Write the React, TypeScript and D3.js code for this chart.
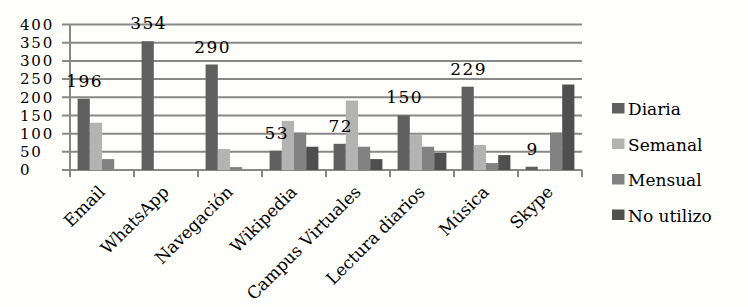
import React from "react";
import * as d3 from "d3";

const categories = ["Email", "WhatsApp", "Navegación", "Wikipedia", "Campus Virtuales", "Lectura diarios", "Música", "Skype"];
const seriesNames = ["Diaria", "Semanal", "Mensual", "No utilizo"];
const diaria = [196, 354, 290, 53, 72, 150, 229, 9];
const semanal = [130, 0, 58, 135, 191, 96, 69, 2];
const mensual = [30, 0, 8, 103, 64, 64, 19, 103];
const noUtilizo = [0, 0, 0, 64, 30, 47, 41, 235];
const yTicks = [0, 50, 100, 150, 200, 250, 300, 350, 400];
const colors = ["#5f5f5f", "#b3b3b3", "#828282", "#4f4f4f"];

const W = 748, H = 307;
const left = 70, right = 582, top = 24.5, bottom = 170;
const grid = "#888888";
const serif = "DejaVu Serif";

export default function App() {
  const series = [diaria, semanal, mensual, noUtilizo];
  const x0 = d3.scaleBand<string>().domain(categories).range([left, right]).padding(0);
  const x1 = d3.scaleBand<string>().domain(seriesNames).range([0, x0.bandwidth()]).paddingInner(0).paddingOuter(0.623);
  const y = d3.scaleLinear().domain([0, 400]).range([bottom, top]);

  return (
    <svg width={W} height={H} style={{ position: "absolute", left: 0, top: 0, background: "#fefefc" }}>
      <rect x={0} y={0} width={W} height={H} fill="#fefefc" />
      {yTicks.map((t) => (
        <g key={t}>
          <line x1={left - 8} x2={right} y1={y(t)} y2={y(t)} stroke={grid} strokeWidth={2} />
          <text x={20} y={y(t)} dy="0.35em" fontFamily={serif} fontSize={15} letterSpacing={1.8} fill="#000">{t}</text>
        </g>
      ))}
      <line x1={left} x2={left} y1={y(400)} y2={bottom + 1} stroke={grid} strokeWidth={2} />
      {d3.range(categories.length + 1).map((i) => {
        const xx = left + i * x0.step();
        return <line key={i} x1={xx} x2={xx} y1={bottom} y2={bottom + 7} stroke={grid} strokeWidth={2} />;
      })}
      {categories.map((c, ci) => (
        <g key={c}>
          {series.map((s, si) => (
            s[ci] > 0 ? (
              <rect key={si} x={(x0(c) as number) + (x1(seriesNames[si]) as number)} y={y(s[ci])}
                width={x1.bandwidth()} height={bottom - y(s[ci])} fill={colors[si]} />
            ) : null
          ))}
        </g>
      ))}
      {categories.map((c, ci) => (
        <text key={"l" + c} x={(x0(c) as number) + (x1("Diaria") as number) + x1.bandwidth() / 2 + 1} y={y(diaria[ci]) - 12}
          textAnchor="middle" fontFamily={serif} fontSize={17} letterSpacing={1.5} fill="#000">{diaria[ci]}</text>
      ))}
      {categories.map((c) => {
        const cx = (x0(c) as number) + x0.bandwidth() / 2;
        const px = cx + 4, py = 193;
        return (
          <text key={"x" + c} x={px} y={py} transform={`rotate(-45, ${px}, ${py})`} textAnchor="end"
            fontFamily={serif} fontSize={17} fill="#000">{c}</text>
        );
      })}
      {seriesNames.map((n, i) => {
        const base = 115 + i * 35.5;
        return (
          <g key={n}>
            <rect x={612} y={base - 12} width={12.5} height={10.5} fill={colors[i]} />
            <text x={628} y={base} fontFamily={serif} fontSize={17} fill="#000">{n}</text>
          </g>
        );
      })}
    </svg>
  );
}
